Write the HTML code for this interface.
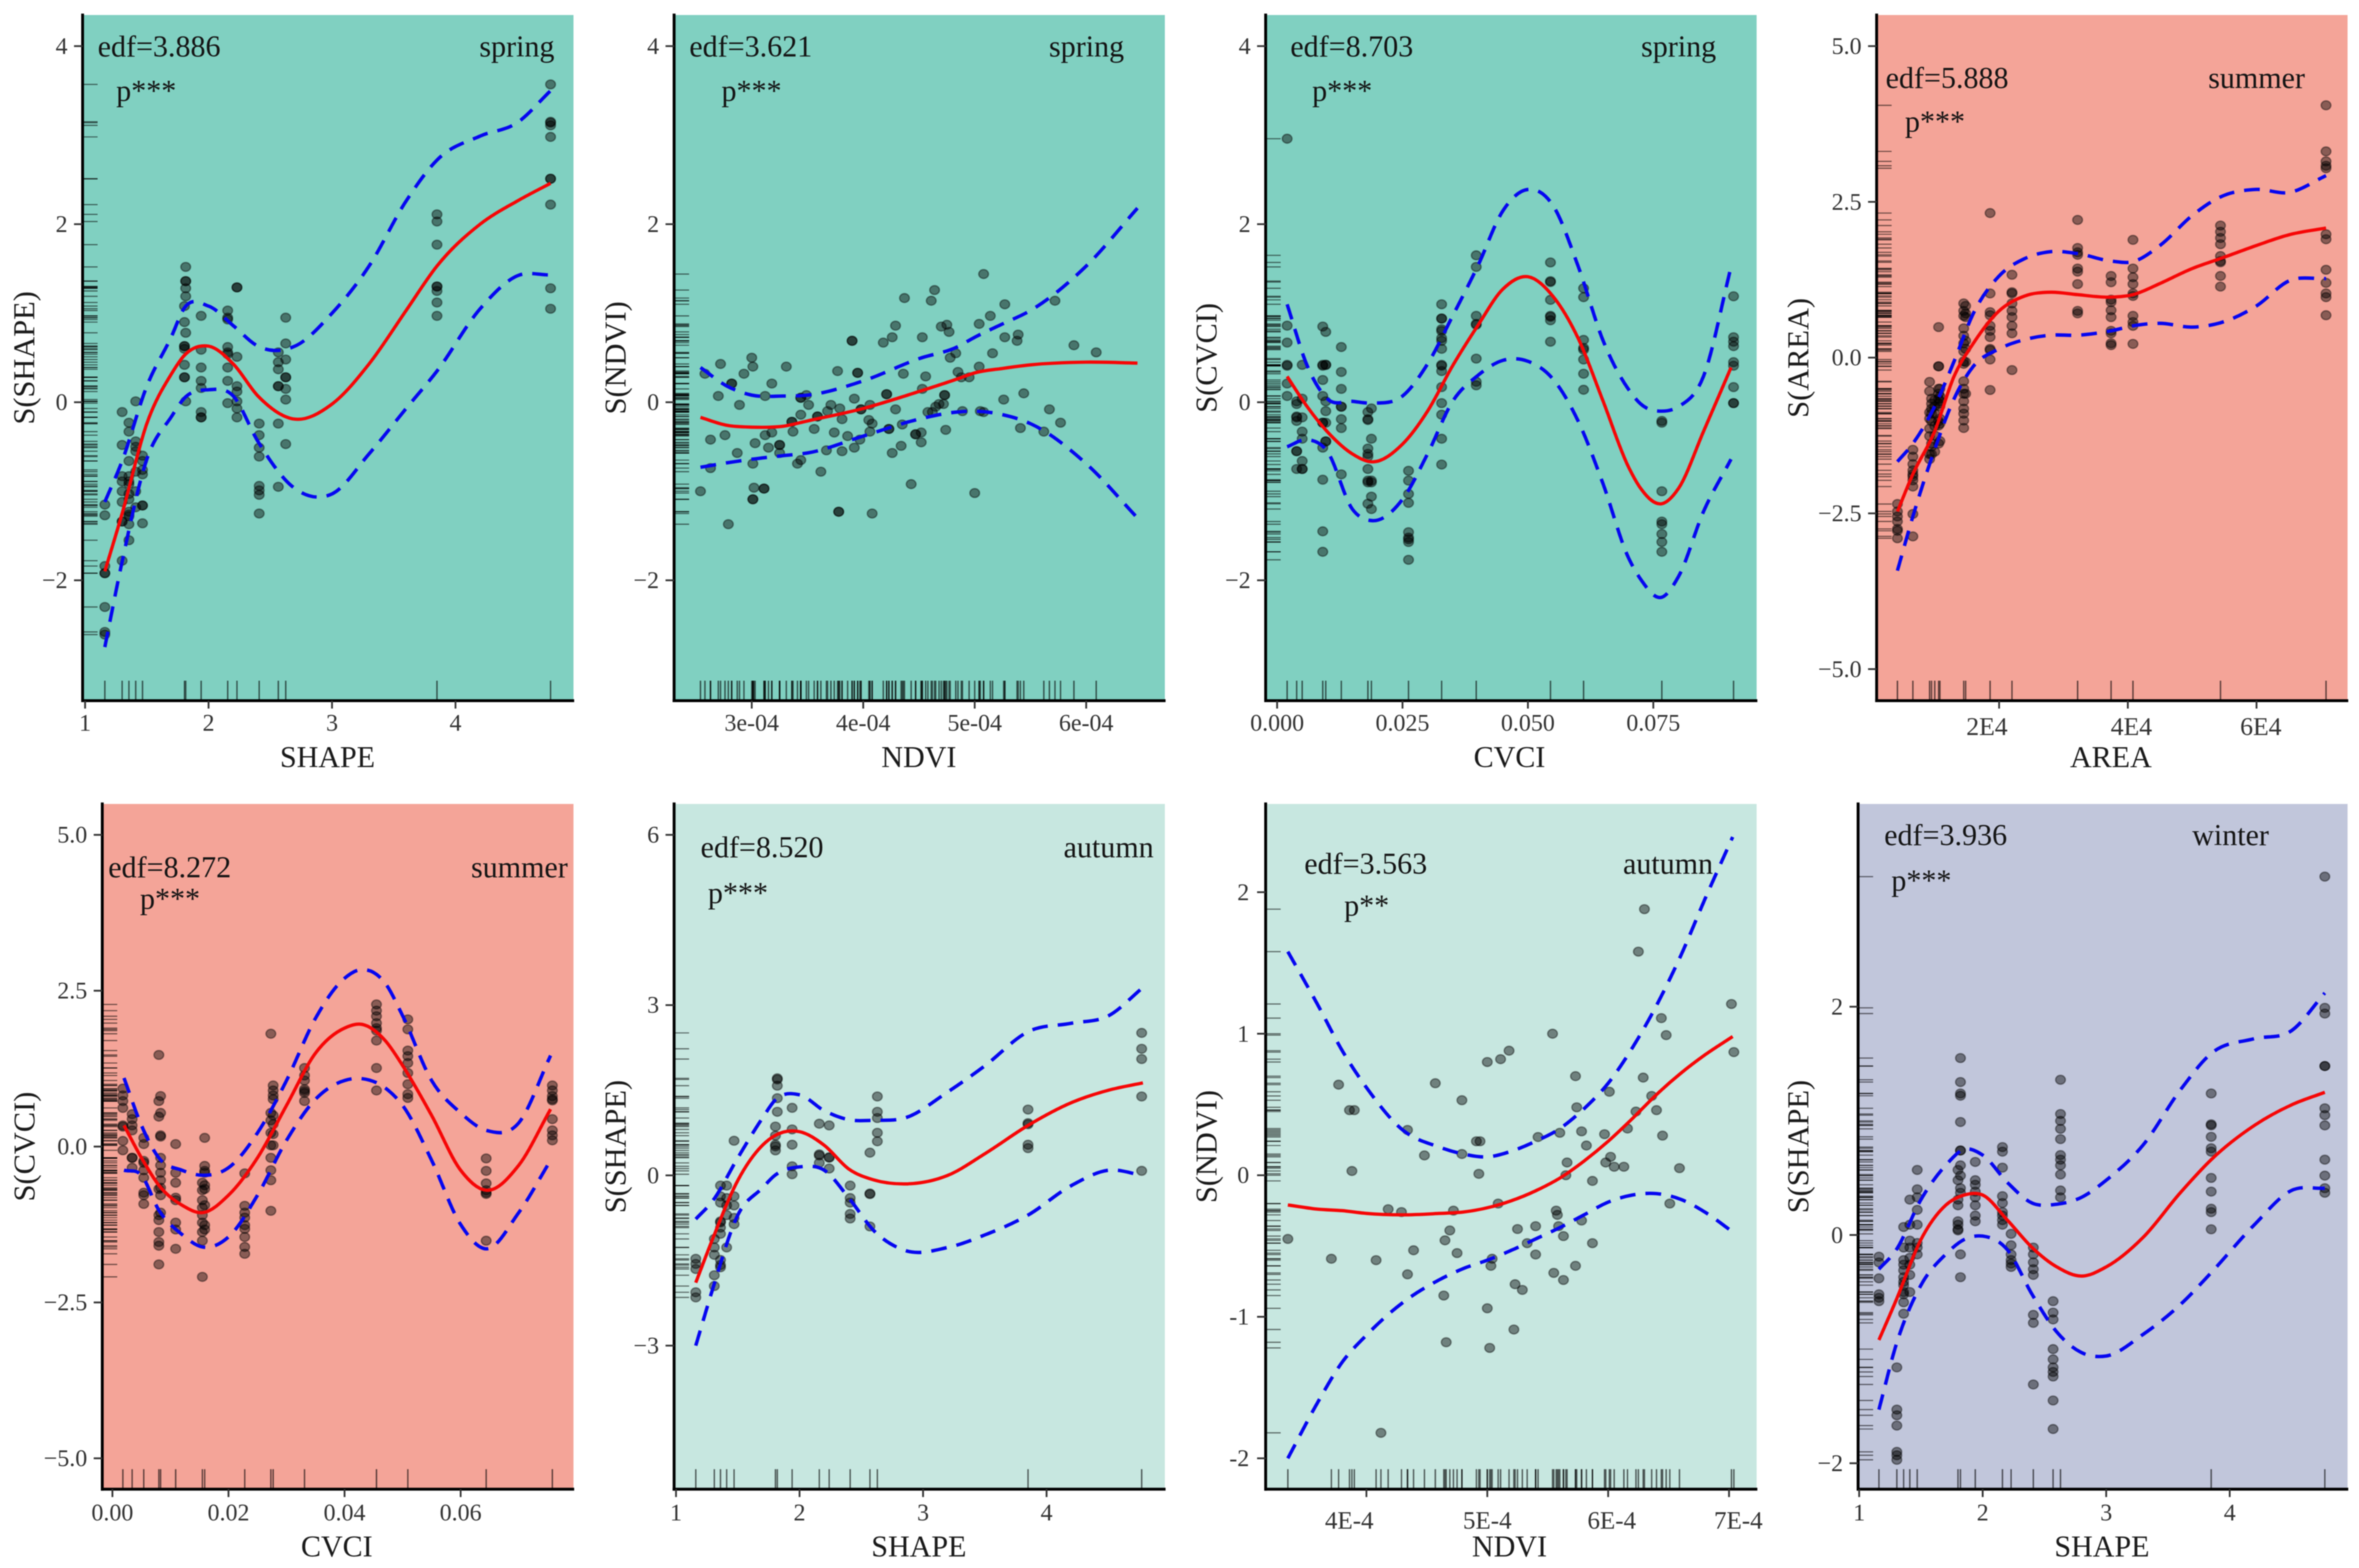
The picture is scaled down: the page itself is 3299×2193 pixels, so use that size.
<!DOCTYPE html>
<html lang="en">
<head>
<meta charset="utf-8">
<title>GAM smooth terms by season</title>
<style>
html,body{margin:0;padding:0;background:#fff;}
svg{display:block;font-family:"Liberation Serif",serif;filter:blur(.8px);}
</style>
</head>
<body>
<svg id="chart" xmlns="http://www.w3.org/2000/svg" width="3299" height="2193" viewBox="0 0 3299 2193"></svg>
<script>
/* ---------- panel 1: spring SHAPE ---------- */
const springShapeX=[1.16,1.30,1.355,1.41,1.465,1.805,1.815,1.94,2.155,2.23,2.41,2.565,2.625,3.85,4.77];
const springShapeY=[
[-1.15,-1.27,-1.84,-1.92,-1.92,-2.30,-2.58,-2.61],
[-0.11,-0.48,-0.83,-0.89,-1.0,-1.12,-1.34,-1.34,-1.78],
[-0.23,-0.33,-0.66,-0.83,-0.89,-0.92,-1.03,-1.09,-1.23,-1.26,-1.28,-1.37,-1.55],
[0.01,-0.44,-0.5,-0.55,-0.78,-1.0,-1.18],
[-0.6,-0.66,-0.76,-0.81,-1.16,-1.16,-1.36],
[1.08,0.9,0.63,0.63,0.6,0.42,0.28,0.28],
[1.52,1.36,1.36,1.28,1.19,0.78,0.01],
[0.97,0.59,0.39,0.24,0.16,-0.11,-0.17,-0.17],
[1.03,0.95,0.93,0.62,0.56,0.54,0.39,0.24,-0.01],
[1.29,1.29,0.51,0.18,0.12,0.01,-0.07,-0.17],
[-0.24,-0.37,-0.51,-0.61,-0.94,-0.99,-1.04,-1.25],
[0.56,0.45,0.37,0.18,0.18,-0.24,-0.95],
[0.95,0.66,0.48,0.28,0.28,0.15,0.03,-0.47],
[2.11,2.03,1.77,1.30,1.30,1.25,1.12,0.97],
[3.57,3.15,3.14,3.11,2.98,2.51,2.51,2.22,1.28,1.05]];
const springShapeCurveX=[1.16,1.3,1.5,1.7,1.8,2.0,2.2,2.4,2.7,3.0,3.3,3.6,3.85,4.2,4.5,4.77];
const springShapeFit=[-1.9,-1.25,-0.24,0.32,0.52,0.63,0.43,0.07,-0.19,-0.02,0.43,1.03,1.53,2.0,2.26,2.46];
const springShapeUpper=[-1.12,-0.66,0.18,0.74,1.05,1.08,0.86,0.63,0.63,1.0,1.53,2.26,2.72,2.99,3.14,3.5];
const springShapeLower=[-2.75,-1.79,-0.64,-0.16,0.04,0.14,0.07,-0.44,-0.97,-1.03,-0.58,-0.07,0.35,1.05,1.42,1.43];
const springShapeXTicks=[1,2,3,4];
const springShapeXLabels=["1","2","3","4"];
const springShapeYTicks=[4,2,0,-2];
const springShapeYLabels=["4","2","0","−2"];

/* ---------- panel 2: spring NDVI (x in units of 1e-4) ---------- */
const springNdviX=[2.54,2.58,2.63,2.63,2.70,2.72,2.76,2.79,2.82,2.82,2.87,2.89,2.93,3.0,3.01,3.01,3.03,3.01,3.01,3.02,3.11,3.11,3.12,3.12,3.15,3.18,3.18,3.25,3.25,3.25,3.31,3.36,3.36,3.37,3.41,3.44,3.44,3.44,3.44,3.49,3.51,3.56,3.59,3.59,3.62,3.67,3.68,3.71,3.74,3.77,3.78,3.78,3.79,3.81,3.81,3.86,3.90,3.90,3.92,3.92,3.95,3.95,3.97,3.98,3.98,4.05,4.06,4.06,4.08,4.08,4.18,4.21,4.21,4.23,4.23,4.26,4.26,4.29,4.29,4.34,4.35,4.36,4.37,4.43,4.47,4.47,4.52,4.52,4.53,4.53,4.56,4.58,4.61,4.62,4.64,4.65,4.68,4.70,4.72,4.74,4.73,4.73,4.75,4.77,4.78,4.83,4.85,4.88,4.89,4.95,5.0,5.04,5.04,5.05,5.08,5.08,5.14,5.16,5.26,5.27,5.27,5.38,5.39,5.41,5.44,5.62,5.67,5.72,5.77,5.89,6.09];
const springNdviY=[-1.0,0.32,-0.42,-0.74,0.07,0.43,-0.37,-1.37,0.21,0.21,-0.57,-0.03,0.32,0.50,0.40,-0.69,-0.46,-1.09,-1.09,-0.96,-0.97,-0.97,0.07,-0.37,-0.51,-0.34,0.21,-0.48,-0.48,-0.57,0.40,-0.22,-0.22,-0.33,-0.69,-0.65,-0.14,0.05,0.05,0.08,-0.03,-0.30,-0.16,-0.16,-0.78,-0.54,-0.10,-0.03,-0.34,0.35,-1.23,-1.23,-0.07,-0.55,-0.19,-0.38,0.69,0.69,0.04,-0.51,0.33,0.33,-0.42,-0.08,-0.08,-0.20,-0.03,-0.33,-0.24,-1.25,0.67,0.09,0.09,-0.30,-0.30,0.73,-0.57,0.86,-0.08,-0.49,-0.25,0.32,1.17,-0.92,-0.36,-0.36,-0.34,-0.45,0.15,0.73,0.29,-0.11,1.14,-0.11,1.26,-0.05,-0.02,0.85,-0.02,-0.31,0.08,0.08,0.87,0.79,0.50,0.55,0.34,0.28,-0.10,0.28,-1.02,0.88,0.40,-0.10,1.44,-0.11,0.97,0.55,0.03,1.10,0.73,0.69,0.76,-0.29,0.10,-0.33,-0.08,1.14,-0.23,0.64,0.56];
const springNdviCurveX=[2.54,2.78,3,3.28,3.5,4,4.5,4.84,5,5.25,5.5,6,6.46];
const springNdviFit=[-0.17,-0.26,-0.28,-0.27,-0.21,-0.07,0.12,0.26,0.33,0.38,0.42,0.45,0.44];
const springNdviUpper=[0.39,0.18,0.08,0.07,0.08,0.24,0.49,0.62,0.73,0.88,1.03,1.53,2.18];
const springNdviLower=[-0.73,-0.68,-0.64,-0.60,-0.57,-0.38,-0.19,-0.11,-0.10,-0.14,-0.24,-0.69,-1.30];
const springNdviXTicks=[3,4,5,6];
const springNdviXLabels=["3e-04","4e-04","5e-04","6e-04"];
const springNdviYTicks=[4,2,0,-2];
const springNdviYLabels=["4","2","0","−2"];

/* ---------- panel 3: spring CVCI ---------- */
const springCvciX=[0.002,0.0039,0.005,0.0091,0.0097,0.0128,0.0181,0.0188,0.0262,0.0328,0.0397,0.0545,0.0611,0.0767,0.091];
const springCvciY=[
[2.96,0.86,0.67,0.42,0.41,0.21,0.07],
[0.01,-0.02,-0.16,-0.17,-0.21,-0.55,-0.55,-0.75],
[0.42,0.04,-0.17,-0.33,-0.41,-0.66,-0.75,-0.75],
[0.85,0.42,0.41,0.25,0.07,-0.23,-0.23,-0.51,-0.87,-1.45,-1.68],
[0.79,0.42,0.42,0.01,-0.10,-0.23,-0.44,-0.44],
[0.62,0.34,0.15,-0.05,-0.05,-0.19,-0.29,-0.81],
[-0.11,-0.19,-0.2,-0.52,-0.58,-0.61,-0.75,-0.88,-0.9,-1.14],
[-0.07,-0.41,-0.88,-0.9,-1.06,-1.2],
[-0.77,-0.88,-1.03,-1.13,-1.46,-1.52,-1.54,-1.57,-1.77],
[1.1,0.94,0.94,0.82,0.8,0.72,0.69,0.6,0.42,0.41,0.35,0.17,-0.01,-0.14,-0.41,-0.7],
[1.65,1.52,0.97,0.88,0.87,0.49,0.23,0.19],
[1.57,1.36,1.35,1.15,0.97,0.96,0.92,0.68],
[1.28,1.18,0.7,0.61,0.59,0.48,0.32,0.14],
[-0.21,-0.23,-1.0,-1.34,-1.37,-1.48,-1.57,-1.68],
[1.19,0.73,0.68,0.63,0.45,0.41,0.17,-0.01,-0.01]];
const springCvciCurveX=[0.002,0.006,0.01,0.015,0.019,0.025,0.03,0.035,0.04,0.045,0.05,0.055,0.06,0.065,0.07,0.0725,0.0767,0.08,0.085,0.0905];
const springCvciFit=[0.29,-0.05,-0.33,-0.58,-0.67,-0.47,-0.10,0.41,0.86,1.27,1.41,1.19,0.72,0.01,-0.72,-0.97,-1.14,-0.97,-0.33,0.39];
const springCvciUpper=[1.10,0.41,0.04,0.01,-0.01,0.07,0.43,0.97,1.53,2.15,2.39,2.21,1.53,0.69,0.15,-0.02,-0.10,-0.05,0.29,1.52];
const springCvciLower=[-0.5,-0.42,-0.55,-1.2,-1.33,-1.09,-0.58,0.01,0.30,0.47,0.46,0.26,-0.21,-0.92,-1.74,-1.99,-2.19,-1.96,-1.23,-0.64];
const springCvciXTicks=[0,0.025,0.05,0.075];
const springCvciXLabels=["0.000","0.025","0.050","0.075"];
const springCvciYTicks=[4,2,0,-2];
const springCvciYLabels=["4","2","0","−2"];

/* ---------- panel 4: summer AREA (x in units of 1e4) ---------- */
const summerAreaX=[0.42,0.66,0.92,0.95,1.0,1.06,1.08,1.45,1.48,1.86,2.2,3.22,3.74,4.08,5.44,7.08];
const summerAreaY=[
[-2.35,-2.47,-2.55,-2.63,-2.75,-2.78,-2.90],
[-1.48,-1.59,-1.71,-1.81,-1.87,-1.91,-1.97,-2.07,-2.51,-2.87],
[-0.39,-0.54,-0.88,-0.98,-1.14,-1.26,-1.55,-1.63],
[-0.66,-0.74,-0.82,-0.90,-1.02,-1.38,-1.43,-1.55],
[-0.68,-0.78,-0.90,-1.10,-1.25,-1.51],
[0.49,-0.14,-0.14,-0.5,-0.58,-0.66,-0.74,-1.02,-1.09,-1.38],
[-0.5,-0.62,-0.7,-0.78,-0.98,-1.06,-1.34],
[0.87,0.75,0.67,0.47,0.35,0.23,0.10,-0.06,-0.10,-0.38,-0.5,-0.58,-0.7,-0.82,-0.9,-1.01,-1.13],
[0.83,0.71,0.65,0.27,0.14,-0.07,-0.58],
[2.32,1.03,0.73,0.68,0.51,0.43,0.33,0.14,0.12,-0.03,-0.52],
[1.33,1.05,1.03,0.87,0.75,0.65,0.51,0.39,-0.2],
[2.21,1.76,1.69,1.65,1.43,1.38,1.18,0.75,0.71],
[1.31,1.21,0.93,0.89,0.76,0.65,0.43,0.39,0.23,0.2],
[1.89,1.43,1.29,1.18,1.03,0.99,0.67,0.57,0.51,0.22],
[2.12,2.02,1.92,1.82,1.63,1.55,1.53,1.31,1.14],
[4.05,3.31,3.15,3.08,3.04,1.98,1.9,1.41,1.2,1.03,0.97,0.68]];
const summerAreaCurveX=[0.42,0.66,1.0,1.3,1.6,2.0,2.4,2.8,3.22,3.74,4.08,4.5,5.0,5.44,6,6.5,7.08];
const summerAreaFit=[-2.47,-1.87,-1.18,-0.30,0.23,0.75,0.99,1.05,1.01,0.97,1.01,1.19,1.43,1.59,1.80,1.97,2.08];
const summerAreaUpper=[-1.67,-1.38,-0.78,-0.06,0.71,1.31,1.59,1.70,1.67,1.55,1.54,1.80,2.28,2.58,2.70,2.65,2.92];
const summerAreaLower=[-3.42,-2.55,-1.47,-0.66,-0.14,0.14,0.29,0.36,0.36,0.43,0.51,0.55,0.49,0.56,0.83,1.23,1.27];
const summerAreaXTicks=[2,4,6];
const summerAreaXLabels=["2E4","4E4","6E4"];
const summerAreaYTicks=[5,2.5,0,-2.5,-5];
const summerAreaYLabels=["5.0","2.5","0.0","−2.5","−5.0"];

/* ---------- panel 5: summer CVCI ---------- */
const summerCvciX=[0.0018,0.0034,0.0054,0.008,0.0083,0.0109,0.0155,0.0159,0.0228,0.0273,0.0277,0.0331,0.0455,0.0509,0.0644,0.0758];
const summerCvciY=[
[0.93,0.82,0.73,0.62,0.34,0.32,0.09,-0.06],
[0.52,0.44,0.34,0.26,-0.18,-0.18,-0.34],
[0.14,0.04,-0.23,-0.26,-0.38,-0.5,-0.74,-0.78,-0.92],
[1.47,0.73,0.48,-0.68,-1.1,-1.18,-1.37,-1.53,-1.59,-1.89],
[0.81,0.54,0.18,0.16,-0.18,-0.3,-0.42,-0.54,-0.66,-0.78,-1.06],
[0.04,-0.42,-0.58,-0.82,-0.86,-1.22,-1.33,-1.64],
[-0.58,-0.7,-0.86,-0.98,-1.1,-1.22,-1.37,-1.51,-2.09],
[0.14,-0.31,-0.39,-0.42,-0.62,-0.68,-0.94,-1.26,-1.33],
[-0.43,-0.95,-1.06,-1.14,-1.26,-1.32,-1.45,-1.61,-1.72],
[1.81,0.54,0.42,0.22,0.02,-0.18,-0.38,-0.54,-1.03],
[0.98,0.9,0.82,0.76,0.5,0.36,0.2,0.02],
[1.26,1.14,1.06,0.92,0.89,0.86,0.73],
[2.28,2.18,2.09,1.98,1.9,1.86,1.7,1.26,0.9],
[2.04,1.88,1.54,1.45,1.34,1.18,1.0,0.84,0.78],
[-0.19,-0.39,-0.59,-0.7,-0.74,-0.76,-1.51],
[0.98,0.9,0.81,0.76,0.74,0.44,0.26,0.18,0.1]];
const summerCvciCurveX=[0.002,0.005,0.008,0.012,0.0155,0.02,0.025,0.03,0.035,0.04,0.043,0.047,0.05,0.055,0.06,0.0644,0.07,0.0755];
const summerCvciFit=[0.34,-0.18,-0.62,-0.94,-1.06,-0.78,-0.18,0.66,1.5,1.9,1.96,1.7,1.3,0.5,-0.38,-0.7,-0.3,0.6];
const summerCvciUpper=[1.1,0.34,-0.18,-0.38,-0.46,-0.34,0.22,1.06,2.06,2.70,2.84,2.62,2.1,1.06,0.54,0.26,0.38,1.46];
const summerCvciLower=[-0.38,-0.46,-1.02,-1.41,-1.61,-1.45,-0.78,0.1,0.76,1.06,1.09,0.94,0.66,-0.22,-1.25,-1.64,-1.06,-0.22];
const summerCvciXTicks=[0,0.02,0.04,0.06];
const summerCvciXLabels=["0.00","0.02","0.04","0.06"];
const summerCvciYTicks=[5,2.5,0,-2.5,-5];
const summerCvciYLabels=["5.0","2.5","0.0","−2.5","−5.0"];

/* ---------- panel 6: autumn SHAPE ---------- */
const autumnShapeX=[1.16,1.31,1.36,1.41,1.47,1.805,1.82,1.94,2.16,2.24,2.41,2.57,2.63,3.85,4.77];
const autumnShapeY=[
[-1.47,-1.56,-1.65,-2.06,-2.15],
[-1.12,-1.27,-1.40,-1.76,-1.95],
[-0.18,-0.37,-0.48,-0.81,-0.83,-0.92,-1.03,-1.49,-1.58,-1.62],
[-0.18,-0.4,-0.53,-0.7,-1.27],
[0.61,-0.37,-0.53,-0.75,-0.86],
[0.86,0.70,0.54,0.51,0.44],
[1.71,1.69,1.58,1.36,1.12],
[1.19,0.81,0.54,0.16,0.02],
[0.91,0.37,0.35,0.22],
[0.88,0.32,0.31,0.12],
[-0.18,-0.4,-0.48,-0.68,-0.76],
[0.4,-0.32,-0.33,-0.9],
[1.39,1.12,1.01,0.75,0.6],
[1.16,0.92,0.90,0.54,0.48],
[2.51,2.23,2.05,1.39,0.08]];
const autumnShapeCurveX=[1.16,1.3,1.5,1.7,1.8,2,2.2,2.4,2.6,2.85,3.2,3.5,3.85,4.2,4.5,4.78];
const autumnShapeFit=[-1.89,-1.1,-0.09,0.53,0.70,0.77,0.53,0.11,-0.08,-0.15,0.0,0.38,0.88,1.28,1.50,1.63];
const autumnShapeUpper=[-0.77,-0.44,0.31,1.01,1.32,1.42,1.14,0.98,0.97,1.01,1.47,1.93,2.53,2.68,2.81,3.31];
const autumnShapeLower=[-3.0,-1.98,-0.7,-0.22,0,0.15,0.09,-0.4,-0.97,-1.32,-1.27,-1.05,-0.7,-0.18,0.09,0];
const autumnShapeXTicks=[1,2,3,4];
const autumnShapeXLabels=["1","2","3","4"];
const autumnShapeYTicks=[6,3,0,-3];
const autumnShapeYLabels=["6","3","0","−3"];

/* ---------- panel 7: autumn NDVI (x in units of 1e-4) ---------- */
const autumnNdviX=[3.35,3.71,3.77,3.86,3.90,3.88,4.08,4.12,4.18,4.29,4.34,4.34,4.39,4.48,4.57,4.64,4.65,4.66,4.69,4.72,4.75,4.79,4.79,4.91,4.94,4.93,5.0,5.0,5.02,5.04,5.03,5.09,5.11,5.18,5.23,5.25,5.22,5.29,5.33,5.40,5.40,5.42,5.54,5.55,5.57,5.58,5.59,5.60,5.63,5.63,5.65,5.66,5.73,5.73,5.74,5.78,5.78,5.82,5.87,5.87,5.97,5.98,6.01,6.02,6.05,6.13,6.16,6.23,6.25,6.29,6.30,6.36,6.40,6.44,6.45,6.48,6.51,6.59,7.02,7.04];
const autumnNdviY=[-0.45,-0.59,0.64,0.46,0.46,0.03,-0.6,-1.82,-0.24,-0.26,0.32,-0.7,-0.53,0.14,0.65,-0.85,-0.46,-1.18,-0.39,-0.25,-0.55,0.53,0.15,0.24,0.24,0.01,-0.94,0.80,-1.22,-0.59,-0.64,-0.2,0.82,0.88,-0.77,-0.38,-1.09,-0.81,-0.48,-0.36,-0.56,0.27,1.0,-0.69,-0.25,-0.28,-0.36,0.3,-0.74,-0.43,0,0.09,0.7,-0.64,0.48,-0.32,0.31,0.21,-0.04,-0.48,0.29,0.09,0.59,0.13,0.06,0.06,0.33,0.45,1.58,0.69,1.88,0.56,0.46,1.11,0.28,0.99,-0.2,0.05,1.21,0.87];
const autumnNdviCurveX=[3.35,3.6,3.8,4,4.3,4.6,4.8,5,5.2,5.4,5.6,5.8,6,6.2,6.4,6.6,6.8,7.03];
const autumnNdviFit=[-0.21,-0.24,-0.25,-0.27,-0.28,-0.27,-0.26,-0.23,-0.18,-0.11,-0.02,0.10,0.24,0.40,0.57,0.72,0.85,0.98];
const autumnNdviUpper=[1.58,1.2,0.88,0.62,0.32,0.2,0.15,0.13,0.17,0.24,0.33,0.47,0.65,0.90,1.20,1.55,1.95,2.39];
const autumnNdviLower=[-2.0,-1.6,-1.32,-1.13,-0.9,-0.74,-0.66,-0.6,-0.53,-0.45,-0.37,-0.28,-0.19,-0.14,-0.13,-0.17,-0.26,-0.4];
const autumnNdviXTicks=[4,5,6,7];
const autumnNdviXLabels=["4E-4","5E-4","6E-4","7E-4"];
const autumnNdviYTicks=[2,1,0,-1,-2];
const autumnNdviYLabels=["2","1","0","-1","-2"];

/* ---------- panel 8: winter SHAPE ---------- */
const winterShapeX=[1.16,1.305,1.36,1.41,1.47,1.80,1.82,1.94,2.16,2.23,2.41,2.57,2.63,3.85,4.77];
const winterShapeY=[
[-0.19,-0.24,-0.38,-0.52,-0.55,-0.58],
[-1.16,-1.53,-1.58,-1.67,-1.9,-1.93,-1.97],
[0.07,-0.11,-0.22,-0.26,-0.31,-0.37,-0.41,-0.44,-0.5,-0.52,-0.59,-0.69],
[0.31,0.09,-0.05,-0.11,-0.2,-0.26,-0.35,-0.5],
[0.57,0.4,0.33,0.22,0.09,-0.07,-0.11,-0.17],
[0.57,0.48,0.31,0.26,0.12,0.09,0.05,0.04],
[1.55,1.34,1.24,1.22,0.99,0.74,0.74,0.61,0.52,0.41,0.37,-0.17,-0.37],
[0.64,0.48,0.44,0.38,0.33,0.26,0.17,0.12],
[0.77,0.73,0.59,0.34,0.28,0.2,0.17,0.13,0.09],
[0.01,-0.09,-0.17,-0.22,-0.25,-0.28],
[-0.11,-0.17,-0.24,-0.3,-0.35,-0.7,-0.77,-1.31],
[-0.58,-0.68,-0.74,-1.0,-1.09,-1.16,-1.2,-1.24,-1.45,-1.7],
[1.36,1.06,1.0,0.93,0.84,0.7,0.66,0.61,0.53,0.39,0.33],
[1.24,0.97,0.96,0.86,0.76,0.73,0.5,0.38,0.23,0.2,0.05],
[3.14,1.99,1.94,1.48,1.48,1.11,1.05,0.96,0.66,0.52,0.41,0.37]];
const winterShapeCurveX=[1.16,1.3,1.5,1.7,1.85,2,2.2,2.4,2.6,2.8,3,3.3,3.6,3.85,4.2,4.5,4.77];
const winterShapeFit=[-0.92,-0.57,-0.04,0.26,0.35,0.35,0.13,-0.11,-0.28,-0.36,-0.28,-0.02,0.37,0.66,0.96,1.14,1.25];
const winterShapeUpper=[-0.3,-0.13,0.31,0.61,0.75,0.7,0.46,0.28,0.27,0.33,0.48,0.79,1.27,1.59,1.72,1.79,2.12];
const winterShapeLower=[-1.53,-0.96,-0.44,-0.17,-0.04,-0.01,-0.13,-0.52,-0.85,-1.03,-1.06,-0.87,-0.61,-0.33,0.09,0.39,0.41];
const winterShapeXTicks=[1,2,3,4];
const winterShapeXLabels=["1","2","3","4"];
const winterShapeYTicks=[2,0,-2];
const winterShapeYLabels=["2","0","−2"];

/* ---------- layout (pixels and styles live here, never in the data arrays) ---------- */
const SPRING="#80d0c1",SUMMER="#f4a498",AUTUMN="#c7e7e0",WINTER="#c1c6db";
const panels=[
{id:"spring-shape",bg:SPRING,l:115.5,r:802,t:21,b:980,xd:[1,4],xr:[119,637],yd:[4,-2],yr:[64.5,811.6],
 px:springShapeX,py:springShapeY,cx:springShapeCurveX,fit:springShapeFit,up:springShapeUpper,lo:springShapeLower,
 xt:springShapeXTicks,xl:springShapeXLabels,yt:springShapeYTicks,yl:springShapeYLabels,
 xTitle:"SHAPE",yTitle:"S(SHAPE)",xtx:458,ytx:34,edf:"edf=3.886",ex:136.6,ey:79,p:"p***",ppx:162.5,ppy:141,season:"spring",sx:775.4,sy:79,tickBase:1022,titleBase:1073},
{id:"spring-ndvi",bg:SPRING,l:942.7,r:1629,t:21,b:980,xd:[3,6],xr:[1051.3,1519],yd:[4,-2],yr:[64.5,811.6],
 px:springNdviX,py:springNdviY,cx:springNdviCurveX,fit:springNdviFit,up:springNdviUpper,lo:springNdviLower,
 xt:springNdviXTicks,xl:springNdviXLabels,yt:springNdviYTicks,yl:springNdviYLabels,
 xTitle:"NDVI",yTitle:"S(NDVI)",xtx:1285,ytx:861,edf:"edf=3.621",ex:964,ey:79,p:"p***",ppx:1009,ppy:141,season:"spring",sx:1572,sy:79,tickBase:1022,titleBase:1073},
{id:"spring-cvci",bg:SPRING,l:1770,r:2456.6,t:21,b:980,xd:[0,0.075],xr:[1786,2312.1],yd:[4,-2],yr:[64.5,811.6],
 px:springCvciX,py:springCvciY,cx:springCvciCurveX,fit:springCvciFit,up:springCvciUpper,lo:springCvciLower,
 xt:springCvciXTicks,xl:springCvciXLabels,yt:springCvciYTicks,yl:springCvciYLabels,
 xTitle:"CVCI",yTitle:"S(CVCI)",xtx:2111,ytx:1687.5,edf:"edf=8.703",ex:1804.5,ey:79,p:"p***",ppx:1835,ppy:141,season:"spring",sx:2400,sy:79,tickBase:1022,titleBase:1073},
{id:"summer-area",bg:SUMMER,l:2624.4,r:3283,t:21,b:980,xd:[2,6],xr:[2795.7,3155.7],yd:[5,-5],yr:[64.5,935.8],
 px:summerAreaX,py:summerAreaY,cx:summerAreaCurveX,fit:summerAreaFit,up:summerAreaUpper,lo:summerAreaLower,
 xt:summerAreaXTicks,xl:summerAreaXLabels,yt:summerAreaYTicks,yl:summerAreaYLabels,
 xTitle:"AREA",yTitle:"S(AREA)",xtx:2952,ytx:2515,edf:"edf=5.888",ex:2637,ey:122.8,p:"p***",ppx:2664,ppy:184,season:"summer",sx:3223.4,sy:122.8,tickBase:1028,titleBase:1073,tickSize:36,tickDx:[-17,5,6]},
{id:"summer-cvci",bg:SUMMER,l:143,r:802,t:1124.4,b:2082.8,xd:[0,0.06],xr:[157.2,644.2],yd:[5,-5],yr:[1167.6,2039.6],
 px:summerCvciX,py:summerCvciY,cx:summerCvciCurveX,fit:summerCvciFit,up:summerCvciUpper,lo:summerCvciLower,
 xt:summerCvciXTicks,xl:summerCvciXLabels,yt:summerCvciYTicks,yl:summerCvciYLabels,
 xTitle:"CVCI",yTitle:"S(CVCI)",xtx:471,ytx:34.4,edf:"edf=8.272",ex:151.4,ey:1227,p:"p***",ppx:195.8,ppy:1270.8,season:"summer",sx:794,sy:1227,tickBase:2126.7,titleBase:2177},
{id:"autumn-shape",bg:AUTUMN,l:942.7,r:1629,t:1124.4,b:2082.8,xd:[1,4],xr:[945.4,1463.6],yd:[6,-3],yr:[1167.6,1882],
 px:autumnShapeX,py:autumnShapeY,cx:autumnShapeCurveX,fit:autumnShapeFit,up:autumnShapeUpper,lo:autumnShapeLower,
 xt:autumnShapeXTicks,xl:autumnShapeXLabels,yt:autumnShapeYTicks,yl:autumnShapeYLabels,
 xTitle:"SHAPE",yTitle:"S(SHAPE)",xtx:1285,ytx:861,edf:"edf=8.520",ex:979.8,ey:1199,p:"p***",ppx:990,ppy:1263,season:"autumn",sx:1613.4,sy:1199,tickBase:2126.7,titleBase:2177},
{id:"autumn-ndvi",bg:AUTUMN,l:1770,r:2456.6,t:1124.4,b:2082.8,xd:[4,7],xr:[1910.9,2418],yd:[2,-2],yr:[1247.8,2039.6],
 px:autumnNdviX,py:autumnNdviY,cx:autumnNdviCurveX,fit:autumnNdviFit,up:autumnNdviUpper,lo:autumnNdviLower,
 xt:autumnNdviXTicks,xl:autumnNdviXLabels,yt:autumnNdviYTicks,yl:autumnNdviYLabels,
 xTitle:"NDVI",yTitle:"S(NDVI)",xtx:2111,ytx:1687.5,edf:"edf=3.563",ex:1824,ey:1222,p:"p**",ppx:1879.7,ppy:1280.5,season:"autumn",sx:2395.7,sy:1222,tickBase:2138,titleBase:2177,tickSize:35,tickDx:[-24,0,5,13],yGap:23},
{id:"winter-shape",bg:WINTER,l:2598.5,r:3283,t:1124.4,b:2082.8,xd:[1,4],xr:[2600,3118.2],yd:[2,-2],yr:[1408,2046.5],
 px:winterShapeX,py:winterShapeY,cx:winterShapeCurveX,fit:winterShapeFit,up:winterShapeUpper,lo:winterShapeLower,
 xt:winterShapeXTicks,xl:winterShapeXLabels,yt:winterShapeYTicks,yl:winterShapeYLabels,
 xTitle:"SHAPE",yTitle:"S(SHAPE)",xtx:2939.5,ytx:2515,edf:"edf=3.936",ex:2635,ey:1182,p:"p***",ppx:2645,ppy:1245.7,season:"winter",sx:3173,sy:1182,tickBase:2126.7,titleBase:2177}
];

const NS="http://www.w3.org/2000/svg";
const root=document.getElementById("chart");
function make(tag,parent,attrs,text){
  const el=document.createElementNS(NS,tag);
  for(const k in attrs){el.setAttribute(k,attrs[k]);}
  if(text!==undefined){el.textContent=text;}
  parent.appendChild(el);
  return el;
}
function scale(domain,range){
  return function(v){return range[0]+(v-domain[0])*(range[1]-range[0])/(domain[1]-domain[0]);};
}
/* Hermite spline through the data points, tangents weighted by point spacing */
function smoothPath(pts){
  const n=pts.length,h=[],s=[],m=[];
  for(let i=0;i<n-1;i++){
    h[i]=pts[i+1][0]-pts[i][0];
    s[i]=(pts[i+1][1]-pts[i][1])/h[i];
  }
  m[0]=s[0];
  m[n-1]=s[n-2];
  for(let i=1;i<n-1;i++){
    m[i]=(h[i]*s[i-1]+h[i-1]*s[i])/(h[i-1]+h[i]);
  }
  let d="M"+pts[0][0].toFixed(1)+" "+pts[0][1].toFixed(1);
  for(let i=0;i<n-1;i++){
    const c1x=pts[i][0]+h[i]/3,c1y=pts[i][1]+m[i]*h[i]/3;
    const c2x=pts[i+1][0]-h[i]/3,c2y=pts[i+1][1]-m[i+1]*h[i]/3;
    d+=" C"+c1x.toFixed(1)+" "+c1y.toFixed(1)+" "+c2x.toFixed(1)+" "+c2y.toFixed(1)+" "+pts[i+1][0].toFixed(1)+" "+pts[i+1][1].toFixed(1);
  }
  return d;
}

panels.forEach(function(p){
  const X=scale(p.xd,p.xr),Y=scale(p.yd,p.yr);
  const g=make("g",root,{});
  
  

  const bg=make("rect",g,{x:p.l,y:p.t,width:p.r-p.l,height:p.b-p.t,fill:p.bg});
  
  

  const rugX=make("g",g,{stroke:"#000","stroke-opacity":0.6,"stroke-width":2});
  
  
  const rugY=make("g",g,{stroke:"#000","stroke-opacity":0.55,"stroke-width":1.6});
  
  
  const dots=make("g",g,{fill:"#000","fill-opacity":0.44,stroke:"#000","stroke-opacity":0.42,"stroke-width":1.8});
  
  

  p.px.forEach(function(xv,i){
    const cx=X(xv);
    const rx=make("line",rugX,{x1:cx,x2:cx,y1:p.b-28,y2:p.b});
    
    
    [].concat(p.py[i]).forEach(function(yv){
      const cy=Y(yv);
      const ry=make("line",rugY,{x1:p.l,x2:p.l+21,y1:cy,y2:cy});
      
      
      const c=make("ellipse",dots,{cx:cx,cy:cy,rx:6.8,ry:6.2});
      
      
    });
  });

  function curve(values,name,color,width,dash){
    const pts=p.cx.map(function(xv,i){return [X(xv),Y(values[i])];});
    const attrs={d:smoothPath(pts),fill:"none",stroke:color,"stroke-width":width};
    if(dash){attrs["stroke-dasharray"]=dash;}
    const path=make("path",g,attrs);
    
    
  }
  curve(p.up,'upper-confidence-line',"#0606f0",4.8,"22 14");
  curve(p.lo,'lower-confidence-line',"#0606f0",4.8,"22 14");
  curve(p.fit,'fitted-smooth-line',"#f60606",4.6);

  const yAxis=make("line",g,{x1:p.l,x2:p.l,y1:p.t-2,y2:p.b+2,stroke:"#000","stroke-width":4});
  
  
  const xAxis=make("line",g,{x1:p.l-2,x2:p.r+1,y1:p.b,y2:p.b,stroke:"#000","stroke-width":4});
  
  

  const tickSize=p.tickSize||33.5;
  p.xt.forEach(function(v,i){
    const x=X(v);
    const t=make("line",g,{x1:x,x2:x,y1:p.b,y2:p.b+11,stroke:"#333","stroke-width":2.5});
    
    
    const dx=p.tickDx?p.tickDx[i]:0;
    const l=make("text",g,{x:x+dx,y:p.tickBase,"text-anchor":"middle","font-size":tickSize,fill:"#333"},p.xl[i]);
    
    
  });
  p.yt.forEach(function(v,i){
    const y=Y(v);
    const t=make("line",g,{x1:p.l-12,x2:p.l,y1:y,y2:y,stroke:"#333","stroke-width":2.5});
    
    
    const l=make("text",g,{x:p.l-(p.yGap||21),y:y+11,"text-anchor":"end","font-size":33.5,fill:"#333"},p.yl[i]);
    
    
  });

  const xt=make("text",g,{x:p.xtx,y:p.titleBase,"text-anchor":"middle","font-size":42,fill:"#1a1a1a"},p.xTitle);
  
  
  const yMid=(p.t+p.b)/2;
  const yt=make("text",g,{x:0,y:0,"text-anchor":"middle","font-size":42.5,fill:"#1a1a1a",transform:"translate("+(p.ytx+14)+" "+yMid+") rotate(-90)"},p.yTitle);
  
  

  const e=make("text",g,{x:p.ex,y:p.ey,"font-size":42,fill:"#141414"},p.edf);
  
  
  const s=make("text",g,{x:p.ppx,y:p.ppy,"font-size":42,fill:"#141414"},p.p);
  
  
  const sn=make("text",g,{x:p.sx,y:p.sy,"text-anchor":"end","font-size":42,fill:"#141414"},p.season);
  
  
});
</script>
</body>
</html>
